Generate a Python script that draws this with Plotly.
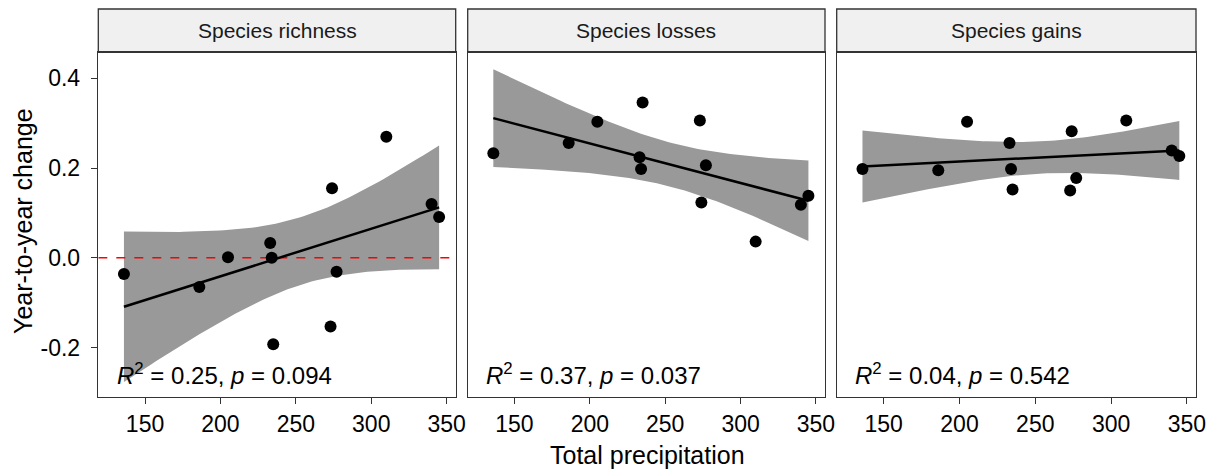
import numpy as np
import plotly.graph_objects as go

# ---------------- data ----------------
precipitation = [136, 186, 205, 233, 234, 235, 273, 274, 277, 310, 340, 345]
richness = [-0.036, -0.065, 0.001, 0.033, 0.000, -0.193, -0.153, 0.155, -0.031, 0.270, 0.120, 0.091]
losses = [0.233, 0.256, 0.303, 0.224, 0.198, 0.346, 0.306, 0.123, 0.206, 0.036, 0.118, 0.138]
gains = [0.198, 0.195, 0.303, 0.256, 0.198, 0.152, 0.150, 0.282, 0.178, 0.306, 0.239, 0.227]

panel_titles = ["Species richness", "Species losses", "Species gains"]
stat_labels = ["<i>R</i><sup>2</sup> = 0.25, <i>p</i> = 0.094",
               "<i>R</i><sup>2</sup> = 0.37, <i>p</i> = 0.037",
               "<i>R</i><sup>2</sup> = 0.04, <i>p</i> = 0.542"]
x_ticks = [150, 200, 250, 300, 350]
y_ticks = [-0.2, 0.0, 0.2, 0.4]
y_tick_labels = ["-0.2", "0.0", "0.2", "0.4"]
x_title = "Total precipitation"
y_title = "Year-to-year change"

T_CRIT = 2.228  # t(0.975, df = 10)

W, H = 1215, 472
FONT = "Liberation Sans, Arial, sans-serif"

# panel geometry in pixels
panels_px = [(98.3, 455.7), (467.7, 825.0), (836.7, 1196.0)]
plot_top, plot_bot = 52.3, 397.3
strip_top = 9.0
xrange_ = [119.0, 356.0]
yrange_ = [-0.311, 0.458]


def py(y):
    return (H - y) / H


def lm_band(x, y, n_pts=80):
    x = np.asarray(x, float)
    y = np.asarray(y, float)
    n = len(x)
    b, a = np.polyfit(x, y, 1)
    resid = y - (a + b * x)
    s = np.sqrt(np.sum(resid ** 2) / (n - 2))
    sxx = np.sum((x - x.mean()) ** 2)
    xs = np.linspace(x.min(), x.max(), n_pts)
    fit = a + b * xs
    se = s * np.sqrt(1.0 / n + (xs - x.mean()) ** 2 / sxx)
    return xs, fit, fit - T_CRIT * se, fit + T_CRIT * se


fig = go.Figure()
series = [richness, losses, gains]
shapes = []
annotations = []

for i, (vals, title, lab) in enumerate(zip(series, panel_titles, stat_labels)):
    xa = "x" if i == 0 else f"x{i+1}"
    ya = "y" if i == 0 else f"y{i+1}"
    xs, fit, lo, hi = lm_band(precipitation, vals)
    fig.add_trace(go.Scatter(x=np.concatenate([xs, xs[::-1]]),
                             y=np.concatenate([hi, lo[::-1]]),
                             fill="toself", fillcolor="#999999",
                             line=dict(width=0), mode="lines",
                             hoverinfo="skip", showlegend=False,
                             xaxis=xa, yaxis=ya))
    if i == 0:
        fig.add_trace(go.Scatter(x=xrange_, y=[0, 0], mode="lines",
                                 line=dict(color="#FF0000", width=1.5, dash="dash"),
                                 showlegend=False, xaxis=xa, yaxis=ya))
    fig.add_trace(go.Scatter(x=xs, y=fit, mode="lines",
                             line=dict(color="black", width=2.5),
                             showlegend=False, xaxis=xa, yaxis=ya))
    fig.add_trace(go.Scatter(x=precipitation, y=vals, mode="markers",
                             marker=dict(color="black", size=12),
                             showlegend=False, xaxis=xa, yaxis=ya))

    x0, x1 = panels_px[i]
    # strip
    shapes.append(dict(type="rect", xref="paper", yref="paper",
                       x0=x0 / W, x1=x1 / W, y0=py(plot_top), y1=py(strip_top),
                       fillcolor="#F0F0F0", line=dict(color="#333333", width=1.3),
                       layer="below"))
    annotations.append(dict(text=title, xref="paper", yref="paper",
                            x=(x0 + x1) / 2 / W, y=py((strip_top + plot_top) / 2),
                            xanchor="center", yanchor="middle", showarrow=False,
                            font=dict(family=FONT, size=21, color="#1A1A1A")))
    annotations.append(dict(text=lab, xref=xa, yref=ya,
                            x=130.0, y=-0.258, xanchor="left", yanchor="middle",
                            showarrow=False,
                            font=dict(family=FONT, size=24, color="black")))

    axis_common = dict(range=xrange_, tickvals=x_ticks, ticks="outside",
                       ticklen=6, tickwidth=1.3, tickcolor="#333333",
                       showline=True, linecolor="#333333", linewidth=1.3,
                       mirror=True, showgrid=False, zeroline=False,
                       automargin=False,
                       tickfont=dict(family=FONT, size=23, color="black"),
                       domain=[x0 / W, x1 / W], anchor=ya)
    yaxis_common = dict(range=yrange_, showline=True, linecolor="#333333",
                        linewidth=1.3, mirror=True, showgrid=False,
                        zeroline=False, automargin=False,
                        domain=[py(plot_bot), py(plot_top)],
                        anchor=xa)
    if i == 0:
        yaxis_common.update(tickvals=y_ticks,
                            ticktext=[t + "\u00a0" for t in y_tick_labels],
                            ticks="outside", ticklen=6, tickwidth=1.3,
                            tickcolor="#333333",
                            tickfont=dict(family=FONT, size=23, color="black"))
    else:
        yaxis_common.update(showticklabels=False, ticks="", matches="y")
    key = "" if i == 0 else str(i + 1)
    fig.layout["xaxis" + key] = axis_common
    fig.layout["yaxis" + key] = yaxis_common

annotations.append(dict(text=x_title, xref="paper", yref="paper",
                        x=647 / W, y=py(455), xanchor="center", yanchor="middle",
                        showarrow=False,
                        font=dict(family=FONT, size=25, color="black")))
annotations.append(dict(text=y_title, xref="paper", yref="paper",
                        x=23 / W, y=py(221), xanchor="center", yanchor="middle",
                        textangle=-90, showarrow=False,
                        font=dict(family=FONT, size=25, color="black")))

fig.update_layout(width=W, height=H, margin=dict(l=0, r=0, t=0, b=0),
                  paper_bgcolor="white", plot_bgcolor="white",
                  shapes=shapes, annotations=annotations, showlegend=False)

fig.write_html("out.html", config={"displayModeBar": False},
               post_script="document.body.style.margin='0';"
                           "document.body.style.overflow='hidden';")
